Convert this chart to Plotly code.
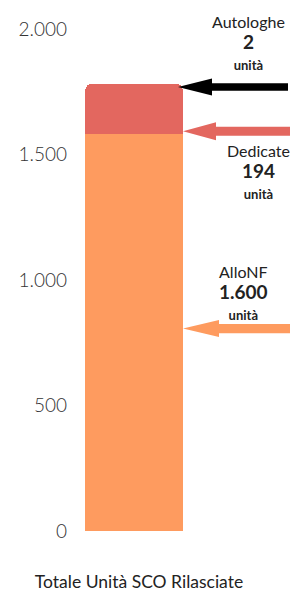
import plotly.graph_objects as go

# ---- data ----
categories = ["Totale Unità SCO Rilasciate"]
series_names = ["AlloNF", "Dedicate", "Autologhe"]
series_values = [1581, 194, 2]
value_labels = ["1.600", "194", "2"]
unit_label = "unità"
y_tick_values = [0, 500, 1000, 1500, 2000]
y_tick_labels = ["0", "500", "1.000", "1.500", "2.000"]

# ---- style ----
bar_colors = ["#fe9b5f", "#e3675f", "#e3675f"]
arrow_colors = ["#fe9b5f", "#e3675f", "#000000"]
FONT = "Lato"

fig = go.Figure()
for name, val, col in zip(series_names, series_values, bar_colors):
    fig.add_trace(go.Bar(
        x=categories, y=[val], name=name,
        marker=dict(color=col, line=dict(width=0)),
        hoverinfo="skip",
    ))

# cumulative positions
bases = []
acc = 0
for v in series_values:
    bases.append(acc)
    acc += v
total = acc

# arrow anchors (data y) and pixel tweaks
arrow_anchor = [series_values[0] / 2, bases[1], total]
arrow_dy = [4, 3, -2]          # px (positive = up)
arrow_tip = [0, 0, -5]         # px relative to plot right edge
arrow_head_len = [36, 33, 34]
arrow_head_h = [17, 18, 17]
arrow_shaft = [9.4, 9, 7.5]
arrow_end = [110, 110, 105]

shapes = []
for i in range(3):
    t = arrow_tip[i]
    b = t + arrow_head_len[i]
    hh = arrow_head_h[i] / 2
    s = arrow_shaft[i] / 2
    e = arrow_end[i]
    d = arrow_dy[i]
    path = (f"M {t},{d} L {b},{d+hh} L {b},{d+s} L {e},{d+s} "
            f"L {e},{d-s} L {b},{d-s} L {b},{d-hh} Z")
    shapes.append(dict(
        type="path", xref="paper", yref="y",
        xsizemode="pixel", ysizemode="pixel",
        xanchor=1, yanchor=arrow_anchor[i],
        path=path, fillcolor=arrow_colors[i], line=dict(width=0),
        layer="above",
    ))

# text blocks
label_anchor = arrow_anchor
label_xshift = [60, 75, 65]
label_yshift = [40, -37, 42]
annotations = []
for i in range(3):
    txt = (f"{series_names[i]}<br>"
           f"<span style='font-size:19px;font-weight:bold'>{value_labels[i]}</span><br>"
           f"<span style='font-size:13px;font-weight:bold'>{unit_label}</span>")
    annotations.append(dict(
        xref="paper", yref="y", x=1, y=label_anchor[i],
        xshift=label_xshift[i], yshift=label_yshift[i],
        text=txt, showarrow=False, xanchor="center", yanchor="middle",
        font=dict(family=FONT, size=16, color="#222222"),
        align="center",
    ))

fig.update_layout(
    width=290, height=590,
    margin=dict(l=85, r=107, t=29, b=59, pad=0, autoexpand=False),
    barmode="stack", bargap=0, barcornerradius=6,
    showlegend=False,
    plot_bgcolor="white", paper_bgcolor="white",
    shapes=shapes, annotations=annotations,
    font=dict(family=FONT),
)
fig.update_yaxes(
    range=[0, 2000], tickvals=y_tick_values, ticktext=y_tick_labels,
    showgrid=True, gridcolor="#cfcfcf", gridwidth=1, zeroline=False,
    showline=False, ticks="", ticklabelstandoff=17, automargin=False,
    tickfont=dict(family=FONT, size=19, color="#333333", weight=300),
)
fig.update_xaxes(
    showgrid=False, zeroline=False, showline=False, ticks="",
    ticklabelstandoff=38, ticklabelshift=5, automargin=False,
    tickfont=dict(family=FONT, size=17.5, color="#222222"),
)

fig.write_html(
    "out.html",
    config={"displayModeBar": False},
    post_script="document.body.style.margin='0';document.body.style.overflow='hidden';",
)
